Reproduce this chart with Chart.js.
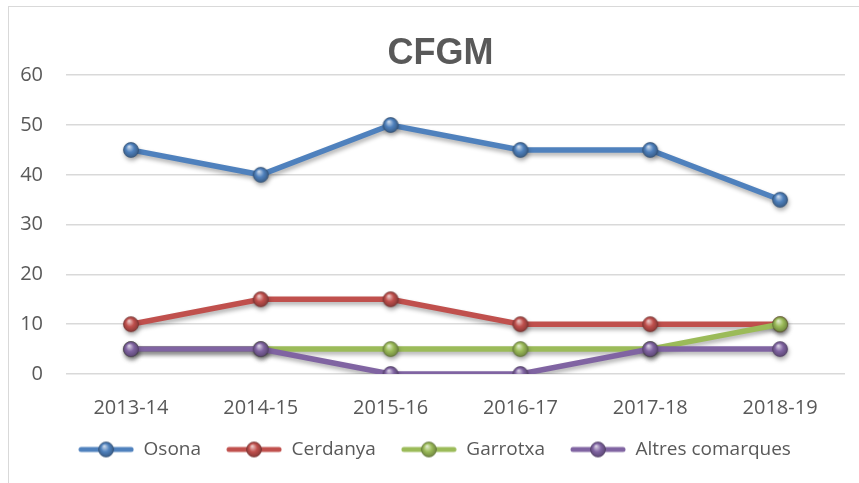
<!DOCTYPE html>
<html><head><meta charset="utf-8">
<script src="https://cdn.jsdelivr.net/npm/chart.js@4"></script>
<style>html,body{margin:0;padding:0;background:#fff;}#wrap{width:859px;height:483px;position:relative;}</style>
</head><body><div id="wrap"><canvas id="c" width="859" height="483"></canvas></div>
<script>
const categories = ['2013-14','2014-15','2015-16','2016-17','2017-18','2018-19'];
const osona = [45,40,50,45,45,35];
const cerdanya = [10,15,15,10,10,10];
const garrotxa = [5,5,5,5,5,10];
const altres = [5,5,0,0,5,5];
const seriesNames = ['Osona','Cerdanya','Garrotxa','Altres comarques'];
const yTicks = [0,10,20,30,40,50,60];
const colors = ['#4F81BD','#C0504D','#9BBB59','#8064A2'];

function shade(hex, f){
  const n=parseInt(hex.slice(1),16);let r=n>>16,g=(n>>8)&255,b=n&255;
  if(f>0){r=r+(255-r)*f;g=g+(255-g)*f;b=b+(255-b)*f;}else{r=r*(1+f);g=g*(1+f);b=b*(1+f);}
  return 'rgb('+Math.round(r)+','+Math.round(g)+','+Math.round(b)+')';
}
function drawSphere(ctx,cx,cy,r,col){
  const g=ctx.createRadialGradient(cx-r*0.25,cy-r*0.45,r*0.05,cx,cy,r*1.05);
  g.addColorStop(0,shade(col,0.7));
  g.addColorStop(0.5,col);
  g.addColorStop(1,shade(col,-0.3));
  ctx.beginPath();ctx.arc(cx,cy,r,0,Math.PI*2);ctx.fillStyle=g;ctx.fill();
  ctx.lineWidth=0.7;ctx.strokeStyle=shade(col,-0.4);ctx.stroke();
}
function sphereCanvas(col){
  const c=document.createElement('canvas');c.width=18;c.height=18;
  drawSphere(c.getContext('2d'),9,9,7.5,col);return c;
}
const LEG_LINE=56;
function legendCanvas(col){
  const c=document.createElement('canvas');c.width=LEG_LINE;c.height=18;const x=c.getContext('2d');
  x.strokeStyle=col;x.lineWidth=5;x.lineCap='round';
  x.beginPath();x.moveTo(3,9);x.lineTo(LEG_LINE-3,9);x.stroke();
  drawSphere(x,LEG_LINE/2,9,7.5,col);return c;
}
const data=[osona,cerdanya,garrotxa,altres];
const datasets=data.map((d,i)=>({
  label:seriesNames[i],data:d,borderColor:colors[i],backgroundColor:colors[i],
  borderWidth:5.5,pointStyle:sphereCanvas(colors[i]),pointRadius:8,tension:0,
  order:data.length-i,
  legendImg:legendCanvas(colors[i])
}));
const shadowPlugin={id:'shadow',
  beforeDatasetDraw(chart){const c=chart.ctx;c.save();c.shadowColor='rgba(0,0,0,0.3)';c.shadowBlur=4;c.shadowOffsetX=1;c.shadowOffsetY=3;},
  afterDatasetDraw(chart){chart.ctx.restore();}
};
const framePlugin={id:'frame',
  afterLayout(chart){
    if(chart.titleBlock){chart.titleBlock.left+=36;}
    if(chart.legend){chart.legend.left+=24;}
  },
  beforeDraw(chart){const c=chart.ctx;c.save();c.fillStyle='#fff';c.fillRect(0,0,chart.width,chart.height);
    c.strokeStyle='#d9d9d9';c.lineWidth=1;c.strokeRect(8.5,6.5,1000,1000);c.restore();}
};
const FONT='Open Sans, Noto Sans';
new Chart(document.getElementById('c'),{
  type:'line',
  data:{labels:categories,datasets:datasets},
  plugins:[framePlugin,shadowPlugin],
  options:{
    responsive:false,animation:false,
    layout:{padding:{left:0,right:14,top:17,bottom:14}},
    plugins:{
      title:{display:true,text:'CFGM',color:'#595959',font:{family:'Liberation Sans, Arial',size:36,weight:'bold'},padding:{top:15,bottom:0}},
      legend:{position:'bottom',labels:{
        usePointStyle:true,pointStyleWidth:LEG_LINE,boxHeight:18,padding:25,color:'#595959',
        font:{family:FONT,size:19},
        generateLabels(chart){return chart.data.datasets.map((ds,i)=>({text:ds.label,pointStyle:ds.legendImg,fillStyle:ds.borderColor,strokeStyle:ds.borderColor,lineWidth:0,datasetIndex:i,hidden:false,fontColor:'#595959'}));}
      }},
      tooltip:{enabled:false}
    },
    scales:{
      x:{offset:true,grid:{display:false},border:{display:false},
        afterFit(s){s.height=41;},
        ticks:{color:'#595959',font:{family:FONT,size:20},padding:14}},
      y:{min:0,max:60,afterBuildTicks(s){s.ticks=yTicks.map(v=>({value:v}));},
        afterFit(s){s.width=66;},
        grid:{color:'#d9d9d9',lineWidth:1.5,drawTicks:false},border:{display:false},
        ticks:{color:'#595959',font:{family:FONT,size:20},padding:23}}
    }
  }
});
</script></body></html>
